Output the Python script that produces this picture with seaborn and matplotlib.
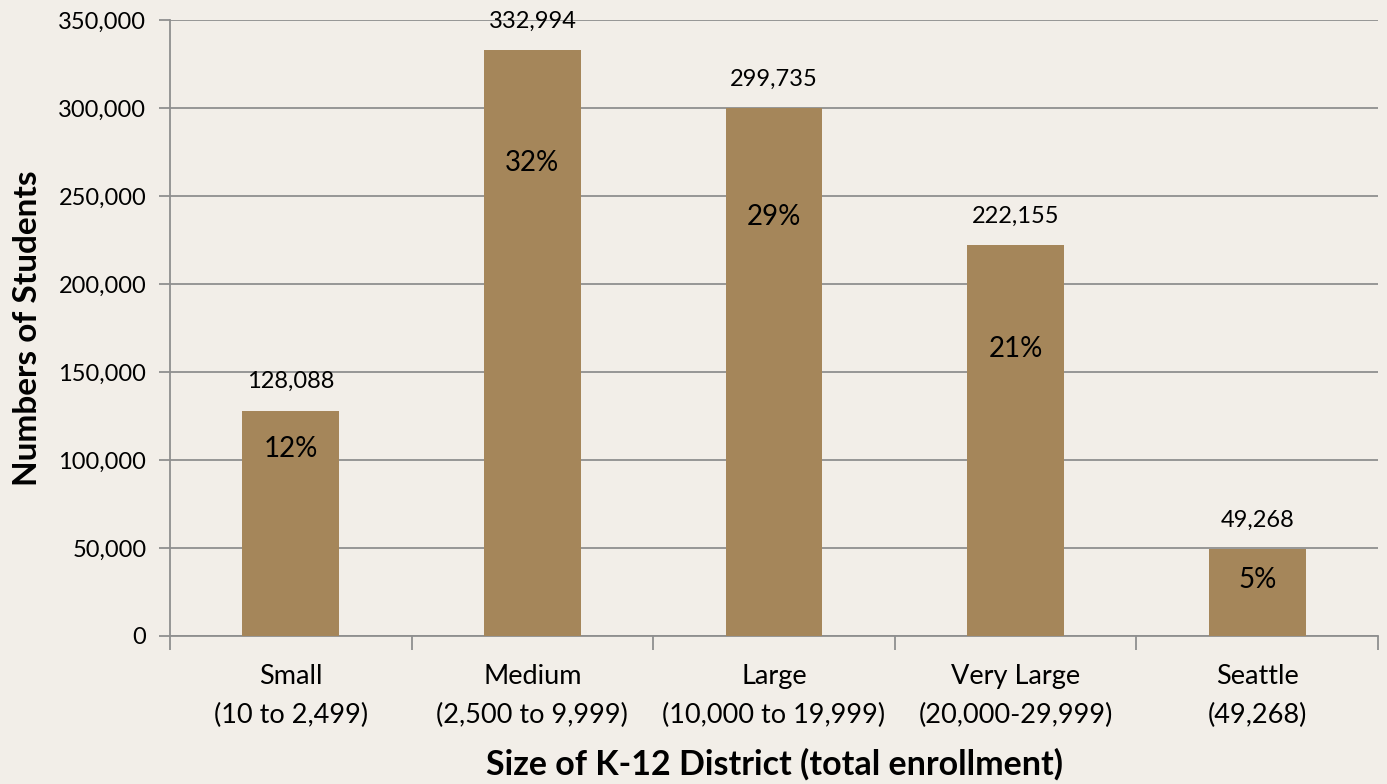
import matplotlib
matplotlib.use("Agg")
import matplotlib.pyplot as plt
import numpy as np
import pandas as pd
import seaborn as sns
from matplotlib.ticker import FuncFormatter, FixedLocator

categories = ["Small\n(10 to 2,499)", "Medium\n(2,500 to 9,999)", "Large\n(10,000 to 19,999)",
              "Very Large\n(20,000-29,999)", "Seattle\n(49,268)"]
students = [128088, 332994, 299735, 222155, 49268]
shares = ["12%", "32%", "29%", "21%", "5%"]
# where the share labels sit inside each bar (data units)
share_label_y = [106000, 268500, 238000, 163000, 31800]

bg = "#F2EEE8"
bar_color = "#A5865A"
grid_color = "#8F8F8F"

sns.set_theme(style="white")
plt.rcParams["font.family"] = ["Lato", "DejaVu Sans"]
plt.rcParams["text.color"] = "black"
plt.rcParams["axes.labelcolor"] = "black"
plt.rcParams["xtick.color"] = "black"
plt.rcParams["ytick.color"] = "black"

df = pd.DataFrame({"cat": categories, "n": students})

fig = plt.figure(figsize=(13.87, 7.84), dpi=100, facecolor=bg)
ax = fig.add_axes([170 / 1387, 1 - 636 / 784, (1378 - 170) / 1387, (636 - 20) / 784])
ax.set_facecolor(bg)

sns.barplot(data=df, x="cat", y="n", color=bar_color, width=0.4, saturation=1,
            linewidth=0, ax=ax, zorder=3)

ax.set_ylim(0, 350000)
ax.set_xlim(-0.5, len(categories) - 0.5)
ax.yaxis.set_major_locator(FixedLocator(np.arange(0, 350001, 50000)))
ax.yaxis.set_major_formatter(FuncFormatter(lambda v, p: f"{int(v):,}"))
ax.grid(axis="y", color=grid_color, linewidth=1.3, zorder=0)
ax.set_axisbelow(True)

for s in ["top", "right"]:
    ax.spines[s].set_visible(False)
for s in ["left", "bottom"]:
    ax.spines[s].set_color(grid_color)
    ax.spines[s].set_linewidth(1.3)

ax.tick_params(axis="y", length=8, width=1.3, color=grid_color, labelsize=17, pad=9, left=True)
ax.tick_params(axis="x", which="major", length=0, labelsize=19.5, pad=20)
ax.set_xticks(np.arange(-0.5, len(categories)), minor=True)
ax.tick_params(axis="x", which="minor", length=10, width=1.3, color=grid_color, bottom=True)
for lbl in ax.get_xticklabels():
    lbl.set_linespacing(1.72)

for i, (v, s, sy) in enumerate(zip(students, shares, share_label_y)):
    ax.text(i, v + 10500, f"{v:,}", ha="center", va="bottom", fontsize=17)
    ax.text(i, sy, s, ha="center", va="center", fontsize=20)

ax.set_xlabel("Size of K-12 District (total enrollment)", fontsize=24.5, fontweight="bold", labelpad=14)
ax.set_ylabel("Numbers of Students", fontsize=24, fontweight="bold", labelpad=12)

fig.savefig("out.png", dpi=100, facecolor=bg)
